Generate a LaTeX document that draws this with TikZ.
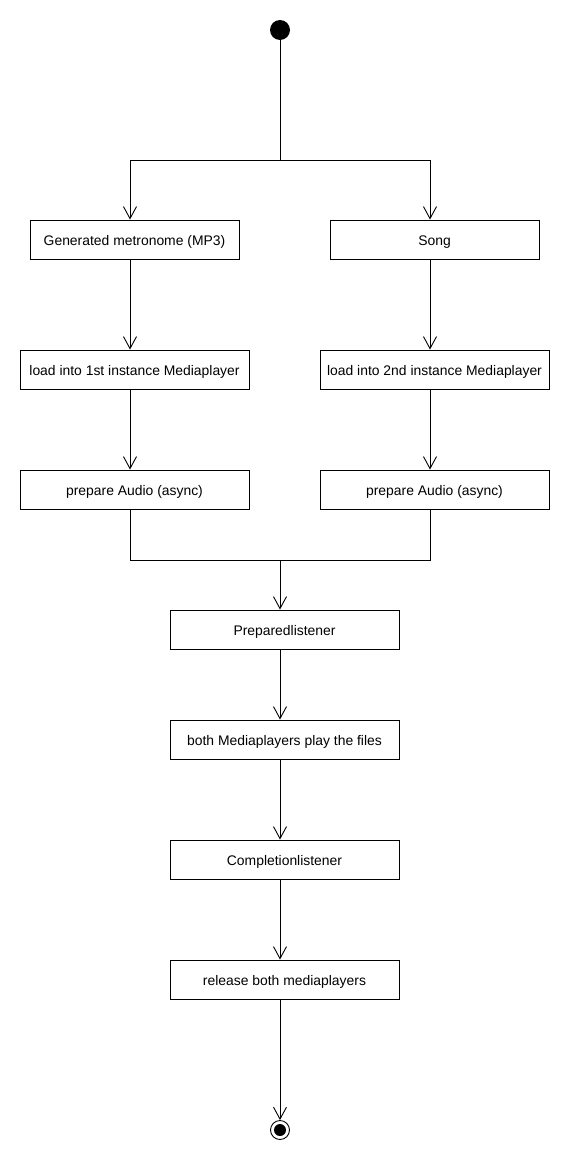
\documentclass[tikz,border=0pt]{standalone}
\usepackage{fontspec}
\setmainfont{Liberation Sans}
\usetikzlibrary{arrows.meta}
\begin{document}
\begin{tikzpicture}[x=1pt,y=-1pt,
  act/.style={draw,line width=0.9pt,minimum width=229pt,minimum height=39pt,inner sep=0pt,text height=12pt,text depth=0pt,font=\fontsize{13.9}{16}\selectfont},
  actn/.style={act,minimum width=209pt},
  flow/.style={line width=0.9pt,-{Straight Barb[length=12pt,width=13pt,line width=0.9pt]}},
  seg/.style={line width=0.9pt}]
\useasboundingbox (0,0) rectangle (570,1170);
\node[circle,fill=black,minimum size=20pt,inner sep=0pt] (start) at (280,30) {};
\node[actn] (gen) at (134.5,239.5) {Generated metronome (MP3)};
\node[actn] (song) at (434.5,239.5) {Song};
\node[act] (load1) at (134.5,369.5) {load into 1st instance Mediaplayer};
\node[act] (load2) at (434.5,369.5) {load into 2nd instance Mediaplayer};
\node[act] (prep1) at (134.5,489.5) {prepare Audio (async)};
\node[act] (prep2) at (434.5,489.5) {prepare Audio (async)};
\node[act] (plist) at (284.5,629.5) {Preparedlistener};
\node[act] (play) at (284.5,739.5) {both Mediaplayers play the files};
\node[act] (clist) at (284.5,859.5) {Completionlistener};
\node[act] (rel) at (284.5,979.5) {release both mediaplayers};
\node[circle,draw,line width=0.9pt,minimum size=19pt,inner sep=0pt] (end) at (280,1130) {};
\fill (end.center) circle (6pt);
\coordinate (fork) at (280,160);
\coordinate (join) at (280,560);
\draw[seg] (start) -- (fork);
\draw[flow] (fork) -| (gen.north -| 130,0);
\draw[flow] (fork) -| (song.north -| 430,0);
\draw[flow] (gen.south -| 130,0) -- (load1.north -| 130,0);
\draw[flow] (song.south -| 430,0) -- (load2.north -| 430,0);
\draw[flow] (load1.south -| 130,0) -- (prep1.north -| 130,0);
\draw[flow] (load2.south -| 430,0) -- (prep2.north -| 430,0);
\draw[seg] (prep1.south -| 130,0) |- (join);
\draw[seg] (prep2.south -| 430,0) |- (join);
\draw[flow] (join) -- (plist.north -| 280,0);
\draw[flow] (plist.south -| 280,0) -- (play.north -| 280,0);
\draw[flow] (play.south -| 280,0) -- (clist.north -| 280,0);
\draw[flow] (clist.south -| 280,0) -- (rel.north -| 280,0);
\draw[flow] (rel.south -| 280,0) -- (end.north);
\end{tikzpicture}
\end{document}
